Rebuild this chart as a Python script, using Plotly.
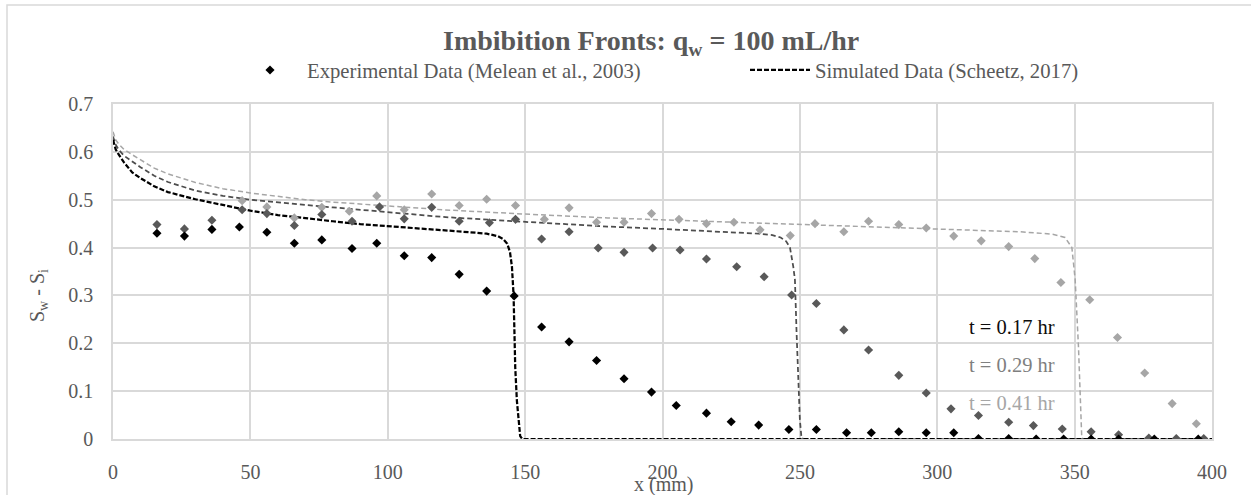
import plotly.graph_objects as go

W, H = 1251, 495
ML, MR, MT, MB = 113, 39, 104, 56
PW, PH = W - ML - MR, H - MT - MB

def px_x(p):
    return (p - ML) / PW

def px_y(p):
    return (H - MB - p) / PH

# ---- Experimental data (Melean et al., 2003) ----
x_exp_017 = [16, 26, 36, 46, 56, 66, 76, 87, 96, 106, 116, 126, 136, 146, 156, 166, 176, 186, 196, 205,
             216, 225, 235, 246, 256, 267, 276, 286, 296, 306, 315, 326, 336, 346, 356, 366, 379, 395]
y_exp_017 = [0.430, 0.424, 0.438, 0.443, 0.432, 0.409, 0.416, 0.398, 0.409, 0.383, 0.379, 0.344, 0.309,
             0.299, 0.234, 0.203, 0.164, 0.126, 0.098, 0.070, 0.054, 0.036, 0.029, 0.020, 0.020, 0.013,
             0.013, 0.015, 0.013, 0.013, 0.001, 0.001, 0.0, 0.0, 0.0, 0.0, 0.0, 0.0]

x_exp_029 = [16, 26, 36, 47, 56, 66, 76, 87, 97, 106, 116, 126, 137, 146.5, 156, 166, 176.6, 186, 196.4,
             206.4, 216, 227, 237, 247, 256, 266, 275, 286, 296, 305, 315, 326, 335, 345.5, 356, 366,
             377, 387, 397]
y_exp_029 = [0.448, 0.439, 0.457, 0.479, 0.471, 0.446, 0.469, 0.455, 0.485, 0.460, 0.484, 0.455, 0.452,
             0.459, 0.418, 0.433, 0.399, 0.390, 0.399, 0.395, 0.376, 0.360, 0.339, 0.301, 0.283, 0.228,
             0.186, 0.133, 0.096, 0.063, 0.049, 0.035, 0.028, 0.021, 0.015, 0.009, 0.002, 0.001, 0.001]

x_exp_041 = [47, 56, 66, 76, 86, 96, 106, 116, 126, 136, 146.5, 157, 166, 176, 186, 196, 206, 216, 226,
             235.5, 246.5, 255.5, 266, 275, 286, 296, 306, 316, 326, 335.5, 345, 355.5, 365.6, 375.5,
             385.5, 394.3]
y_exp_041 = [0.498, 0.485, 0.462, 0.484, 0.476, 0.508, 0.479, 0.512, 0.488, 0.501, 0.488, 0.459, 0.483,
             0.453, 0.453, 0.471, 0.459, 0.450, 0.453, 0.437, 0.425, 0.450, 0.433, 0.455, 0.448, 0.441,
             0.424, 0.414, 0.402, 0.377, 0.327, 0.291, 0.212, 0.138, 0.074, 0.032]

# ---- Simulated data (Scheetz, 2017) ----
x_sim_017 = [0, 1, 2, 4, 7, 10, 15, 20, 30, 40, 50, 60, 70, 80, 90, 100, 110, 120, 130, 136, 140, 142,
             143.5, 144.5, 145.2, 145.8, 146.4, 147, 147.6, 148.2, 149, 200, 250, 300, 350, 400]
y_sim_017 = [0.625, 0.605, 0.595, 0.578, 0.557, 0.545, 0.528, 0.516, 0.501, 0.489, 0.477, 0.468, 0.461,
             0.455, 0.449, 0.445, 0.441, 0.437, 0.432, 0.429, 0.424, 0.418, 0.408, 0.390, 0.360, 0.300,
             0.150, 0.080, 0.035, 0.006, 0.0, 0.0, 0.0, 0.0, 0.0, 0.0]

x_sim_029 = [0, 1, 2, 4, 7, 10, 15, 20, 30, 40, 50, 60, 70, 80, 90, 100, 120, 140, 160, 180, 200, 220,
             235, 240, 243, 245, 246.4, 247.6, 248.2, 248.8, 249.4, 250.0, 250.6, 251.5, 300, 350, 400]
y_sim_029 = [0.632, 0.615, 0.605, 0.592, 0.580, 0.568, 0.550, 0.537, 0.519, 0.508, 0.500, 0.494, 0.489,
             0.484, 0.479, 0.474, 0.464, 0.457, 0.450, 0.444, 0.439, 0.434, 0.429, 0.426, 0.421, 0.413,
             0.400, 0.360, 0.333, 0.222, 0.124, 0.040, 0.002, 0.0, 0.0, 0.0, 0.0]

x_sim_041 = [0, 1, 2, 4, 7, 10, 15, 20, 30, 40, 50, 60, 70, 80, 90, 100, 120, 150, 180, 210, 240, 270,
             300, 330, 342, 346.5, 349, 350.2, 351.4, 352, 352.6, 353.5, 400]
y_sim_041 = [0.642, 0.625, 0.617, 0.605, 0.594, 0.584, 0.566, 0.554, 0.536, 0.523, 0.514, 0.507, 0.500,
             0.495, 0.491, 0.487, 0.479, 0.470, 0.462, 0.456, 0.450, 0.444, 0.439, 0.433, 0.428, 0.421,
             0.400, 0.333, 0.193, 0.080, 0.002, 0.0, 0.0]

time_labels = ["t = 0.17 hr", "t = 0.29 hr", "t = 0.41 hr"]
label_y = [0.234, 0.155, 0.075]
label_colors = ["#0d0d0d", "#7f7f7f", "#a6a6a6"]

SERIF = "Liberation Serif, Times New Roman, serif"
TXT = "#595959"

fig = go.Figure()

sims = [
    (x_sim_041, y_sim_041, "#a6a6a6", 1.5, "5px,3px", False),
    (x_sim_029, y_sim_029, "#4d4d4d", 1.75, "5px,3px", False),
    (x_sim_017, y_sim_017, "#000000", 2.25, "5px,2px", True),
]
for xs, ys, col, w, dash, leg in sims:
    fig.add_trace(go.Scatter(
        x=xs, y=ys, mode="lines",
        line=dict(color=col, width=w, dash=dash),
        name="Simulated Data (Scheetz, 2017)",
        showlegend=leg, legend="legend2", hoverinfo="skip"))

exps = [
    (x_exp_041, y_exp_041, "#a6a6a6", False),
    (x_exp_029, y_exp_029, "#595959", False),
    (x_exp_017, y_exp_017, "#000000", True),
]
for xs, ys, col, leg in exps:
    fig.add_trace(go.Scatter(
        x=xs, y=ys, mode="markers",
        marker=dict(symbol="diamond", size=7, color=col, line=dict(width=0)),
        name="Experimental Data (Melean et al., 2003)",
        showlegend=leg, legend="legend", hoverinfo="skip"))

annotations = [
    dict(text="<b>Imbibition Fronts: q<sub>w</sub> = 100 mL/hr</b>", xref="paper", yref="paper",
         x=px_x(651), y=px_y(42), xanchor="center", yanchor="middle", showarrow=False,
         font=dict(family=SERIF, size=28, color=TXT)),
    dict(text="x (mm)", xref="paper", yref="paper", x=px_x(663), y=px_y(484),
         xanchor="center", yanchor="middle", showarrow=False,
         font=dict(family=SERIF, size=20, color=TXT)),
    dict(text="S<sub>w</sub> - S<sub>i</sub>", xref="paper", yref="paper", x=px_x(38), y=px_y(296),
         xanchor="center", yanchor="middle", textangle=-90, showarrow=False,
         font=dict(family=SERIF, size=20, color=TXT)),
]
for t, yy, c in zip(time_labels, label_y, label_colors):
    annotations.append(dict(text=t, x=311, y=yy, xref="x", yref="y", xanchor="left",
                            yanchor="middle", showarrow=False,
                            font=dict(family=SERIF, size=20.5, color=c)))

fig.update_layout(
    width=W, height=H,
    margin=dict(l=ML, r=MR, t=MT, b=MB),
    paper_bgcolor="white", plot_bgcolor="white",
    font=dict(family=SERIF, size=20, color=TXT),
    annotations=annotations,
    legend=dict(orientation="h", x=px_x(233), y=px_y(70), xanchor="left", yanchor="middle",
                font=dict(family=SERIF, size=20.7, color=TXT), itemwidth=64,
                bgcolor="rgba(0,0,0,0)"),
    legend2=dict(orientation="h", x=px_x(745), y=px_y(70), xanchor="left", yanchor="middle",
                 font=dict(family=SERIF, size=20.7, color=TXT), itemwidth=60,
                 bgcolor="rgba(0,0,0,0)"),
    shapes=[dict(type="rect", xref="paper", yref="paper",
                 x0=px_x(7), x1=px_x(W + 10), y0=px_y(H + 10), y1=px_y(5),
                 line=dict(color="#d9d9d9", width=1.5), layer="below")],
)
fig.update_xaxes(range=[0, 400], dtick=50, tick0=0, showgrid=True, gridcolor="#d9d9d9", gridwidth=1.5,
                 showline=True, mirror=True, linecolor="#d9d9d9", linewidth=1.5, zeroline=False,
                 ticks="", ticklabelstandoff=14, tickfont=dict(family=SERIF, size=20, color=TXT))
fig.update_yaxes(range=[0, 0.7], dtick=0.1, tick0=0, showgrid=True, gridcolor="#d9d9d9", gridwidth=1.5,
                 showline=True, mirror=True, linecolor="#d9d9d9", linewidth=1.5, zeroline=False,
                 ticks="", ticklabelstandoff=14, tickfont=dict(family=SERIF, size=20, color=TXT))

fig.write_html("out.html")
